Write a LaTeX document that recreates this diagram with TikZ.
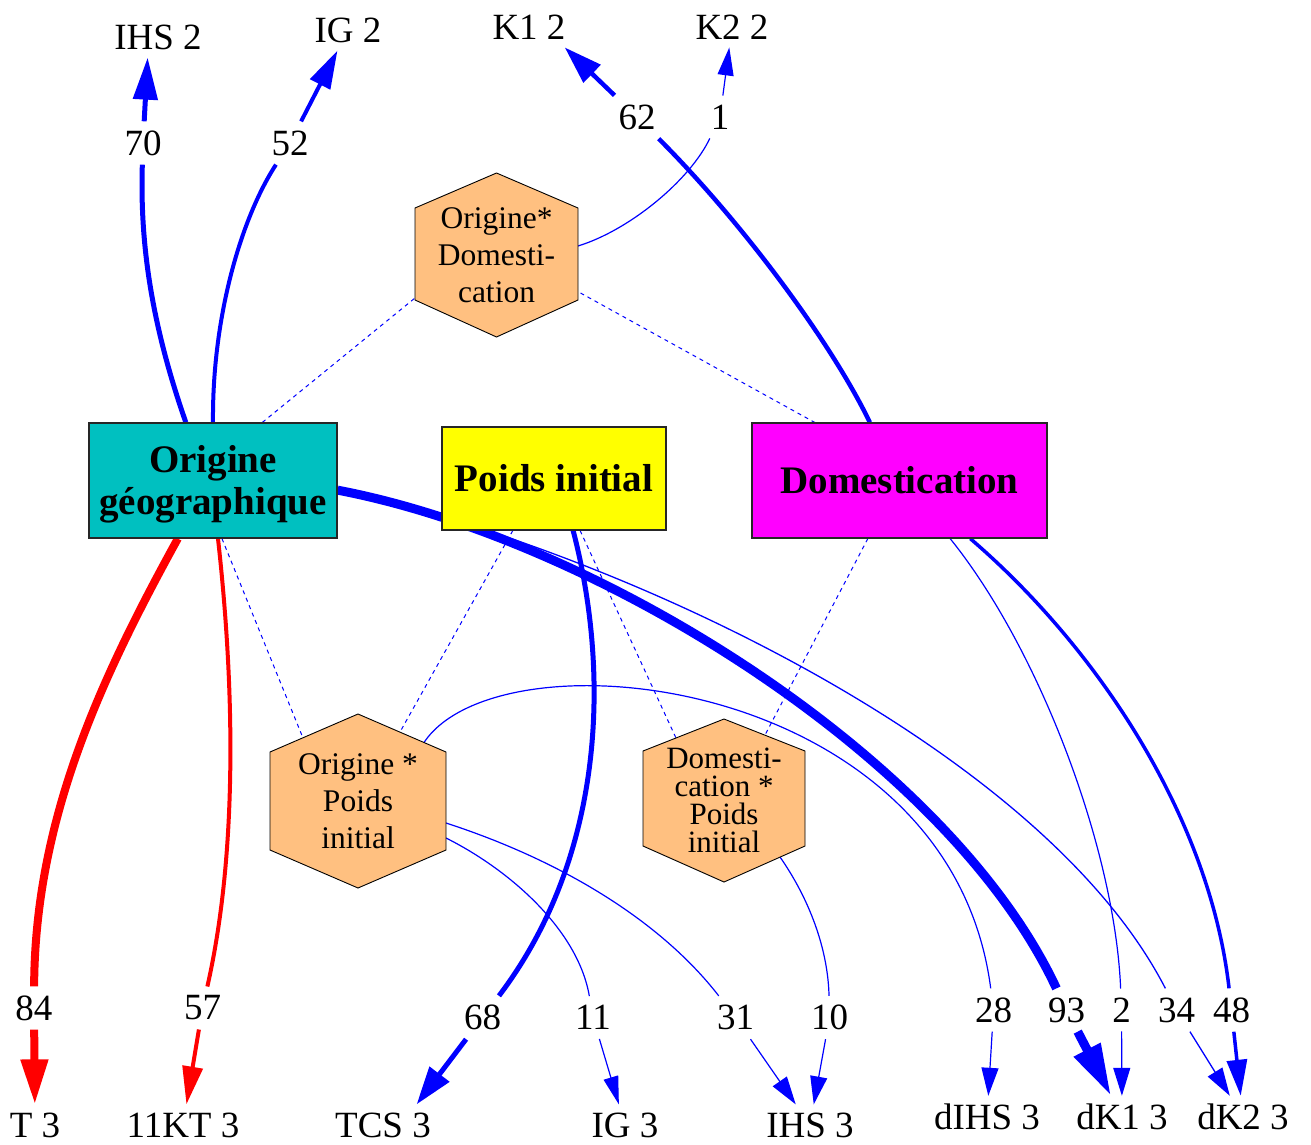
\documentclass[tikz,border=0pt]{standalone}
\usepackage{fontspec}
\setmainfont{Liberation Serif}
\usetikzlibrary{arrows.meta,calc}
\pgfdeclarelayer{bg}
\pgfsetlayers{bg,main}
\definecolor{cyanbox}{RGB}{0,192,192}
\definecolor{hexfill}{RGB}{255,192,128}
\definecolor{eblue}{RGB}{0,0,255}
\definecolor{ered}{RGB}{255,0,0}
\definecolor{boxmag}{RGB}{255,0,255}
\definecolor{boxyel}{RGB}{255,255,0}
\begin{document}
\begin{tikzpicture}[x=1pt,y=-1pt,
  box/.style={draw=black!85, line width=1.2pt, font=\fontsize{39}{42}\selectfont\bfseries, align=center, inner sep=0pt},
  lbl/.style={font=\fontsize{37}{40}\selectfont, inner sep=8pt},
  num/.style={font=\fontsize{37}{40}\selectfont, inner sep=9pt},
  hextxt/.style={font=\fontsize{31.5}{37}\selectfont, align=center, inner sep=0pt},
  hexbody/.style={draw=black, line width=0.9pt, fill=hexfill},
  link/.style={eblue, line width=1.2pt},
  redlink/.style={ered},
  inter/.style={eblue, line width=1pt, dash pattern=on 4pt off 4pt},
]
\useasboundingbox (0,0) rectangle (1311,1144);

% main factor boxes
\node[box, fill=cyanbox, minimum width=248pt, minimum height=115pt] (orig) at (213,480.5) {\rule{0pt}{35pt}Origine\\géographique};
\node[box, fill=boxyel, minimum width=224pt, minimum height=103pt] (poids) at (554,478.5) {Poids initial};
\node[box, fill=boxmag, minimum width=295pt, minimum height=115pt] (dom) at (899.5,480.5) {Domestication};

% interaction hexagons
\coordinate (cOD) at (496.5,255);
\draw[hexbody] ($(cOD)+(0,-82)$) -- ($(cOD)+(81.5,-47)$) -- ($(cOD)+(81.5,45)$) -- ($(cOD)+(0,82)$) -- ($(cOD)+(-81.5,45)$) -- ($(cOD)+(-81.5,-47)$) -- cycle;
\node[hextxt] (hOD) at (cOD) {Origine*\\Domesti-\\cation};

\coordinate (cOP) at (358,801);
\draw[hexbody] ($(cOP)+(0,-87)$) -- ($(cOP)+(88,-49)$) -- ($(cOP)+(88,49)$) -- ($(cOP)+(0,87)$) -- ($(cOP)+(-88,49)$) -- ($(cOP)+(-88,-49)$) -- cycle;
\node[hextxt] (hOP) at (cOP) {Origine *\\Poids\\initial};

\coordinate (cDP) at (724,800.5);
\draw[hexbody] ($(cDP)+(0,-81.5)$) -- ($(cDP)+(81,-49.5)$) -- ($(cDP)+(81,45.5)$) -- ($(cDP)+(0,81.5)$) -- ($(cDP)+(-81,45.5)$) -- ($(cDP)+(-81,-49.5)$) -- cycle;
\node[hextxt, font=\fontsize{31}{28}\selectfont] (hDP) at (cDP) {Domesti-\\cation *\\Poids\\initial};

% response labels
\node[lbl] (ihs2) at (158,37) {IHS 2};
\node[lbl] (ig2) at (348,30) {IG 2};
\node[lbl] (k12) at (529,27) {K1 2};
\node[lbl] (k22) at (732,27) {K2 2};
\node[lbl] (t3) at (35,1125) {T 3};
\node[lbl] (kt3) at (183,1125) {11KT 3};
\node[lbl] (tcs3) at (383,1125) {TCS 3};
\node[lbl] (ig3) at (625,1125) {IG 3};
\node[lbl] (ihs3) at (810,1125) {IHS 3};
\node[lbl] (dihs3) at (987,1117) {dIHS 3};
\node[lbl] (dk13) at (1122,1117) {dK1 3};
\node[lbl] (dk23) at (1243,1117) {dK2 3};

% edge value labels
\node[num] (l70) at (143,143) {70};
\node[num] (l52) at (290,143) {52};
\node[num] (l62) at (637,117) {62};
\node[num] (l1) at (720,117) {1};
\node[num] (l84) at (34,1008) {84};
\node[num] (l57) at (202.5,1008) {57};
\node[num] (l68) at (482.5,1017.5) {68};
\node[num] (l11) at (593,1017.5) {11};
\node[num] (l31) at (735.5,1017.5) {31};
\node[num] (l10) at (829.5,1017.5) {10};
\node[num] (l28) at (993.5,1010) {28};
\node[num] (l93) at (1066.5,1010) {93};
\node[num] (l2) at (1121.5,1010) {2};
\node[num] (l34) at (1176.5,1010) {34};
\node[num] (l48) at (1231.5,1010) {48};

% attachment points
\coordinate (o70) at ($(orig.north west)!0.391!(orig.north east)$);
\coordinate (o52) at (orig.north);
\coordinate (oD1) at ($(orig.north west)!0.698!(orig.north east)$);
\coordinate (o84) at ($(orig.south west)!0.359!(orig.south east)$);
\coordinate (o57) at ($(orig.south west)!0.52!(orig.south east)$);
\coordinate (oD3) at ($(orig.south west)!0.536!(orig.south east)$);
\coordinate (o93) at ($(orig.north east)!0.583!(orig.south east)$);
\coordinate (o34) at ($(orig.north east)!0.575!(orig.south east)$);
\coordinate (p68) at ($(poids.south west)!0.585!(poids.south east)$);
\coordinate (pD4) at ($(poids.south west)!0.317!(poids.south east)$);
\coordinate (pD5) at ($(poids.south west)!0.616!(poids.south east)$);
\coordinate (d62) at ($(dom.north west)!0.4!(dom.north east)$);
\coordinate (dD2) at ($(dom.north west)!0.2136!(dom.north east)$);
\coordinate (d2) at ($(dom.south west)!0.671!(dom.south east)$);
\coordinate (d48) at ($(dom.south west)!0.739!(dom.south east)$);
\coordinate (dD6) at ($(dom.south west)!0.393!(dom.south east)$);
\coordinate (hOD1) at ($(cOD)+(81.5,-9)$);
\coordinate (hODa) at ($(cOD)+(-81.5,43)$);
\coordinate (hODb) at ($(cOD)+(84,38)$);
\coordinate (hOP11) at ($(cOP)+(88,37)$);
\coordinate (hOP31) at ($(cOP)+(88,22)$);
\coordinate (hOP28) at ($(cOP)+(66,-58.5)$);
\coordinate (hOPa) at ($(cOP)+(-55,-63)$);
\coordinate (hOPb) at ($(cOP)+(42,-69)$);
\coordinate (hDP10) at ($(cDP)+(56,56.5)$);
\coordinate (hDPa) at ($(cDP)+(-48,-62.5)$);
\coordinate (hDPb) at ($(cDP)+(41,-65.5)$);

\begin{pgfonlayer}{bg}
% interaction (dashed) links
\draw[inter] (oD1) -- (hODa);
\draw[inter] (hODb) -- (dD2);
\draw[inter] (oD3) -- (hOPa);
\draw[inter] (pD4) -- (hOPb);
\draw[inter] (pD5) -- (hDPa);
\draw[inter] (dD6) -- (hDPb);

% upward effects
\draw[link, line width=5pt] (o70) .. controls (150,320) and (140,240) .. (l70);
\draw[link, line width=5pt, -{Triangle[length=42pt,width=24pt]}] (l70) -- ($(ihs2.south west)!0.8!(ihs2.south)$);
\draw[link, line width=4pt] (o52) .. controls (212,320) and (240,220) .. (l52);
\draw[link, line width=4pt, -{Triangle[length=38pt,width=22pt]}] (l52) -- (ig2);
\draw[link, line width=4.5pt] (d62) .. controls (830,340) and (740,220) .. (l62);
\draw[link, line width=4.5pt, -{Triangle[length=38pt,width=24pt]}] (l62) -- ($(k12.south)!0.8!(k12.south east)$);
\draw[link] (hOD1) .. controls (630,230) and (690,180) .. (l1);
\draw[link, -{Triangle[length=28pt,width=16pt]}] (l1) -- (k22);

% downward effects
\draw[redlink, line width=8pt] (o84) .. controls (100,680) and (35,820) .. (l84);
\draw[redlink, line width=8pt, -{Triangle[length=45pt,width=26pt]}] (l84) -- (t3);
\draw[redlink, line width=4pt] (o57) .. controls (236,700) and (236,860) .. (l57);
\draw[redlink, line width=4pt, -{Triangle[length=38pt,width=20pt]}] (l57) -- (kt3);
\draw[link, line width=5pt] (p68) .. controls (612,680) and (602,860) .. (l68);
\draw[link, line width=5pt, -{Triangle[length=38pt,width=24pt]}] (l68) -- ($(tcs3.north)!0.6!(tcs3.north east)$);
\draw[link] (hOP11) .. controls (510,870) and (578,930) .. (l11);
\draw[link, -{Triangle[length=28pt,width=15pt]}] (l11) -- (ig3);
\draw[link] (hOP31) .. controls (560,860) and (660,920) .. (l31);
\draw[link, -{Triangle[length=28pt,width=17pt]}] (l31) -- (ihs3);
\draw[link] (hDP10) .. controls (810,900) and (828,950) .. (l10);
\draw[link, -{Triangle[length=28pt,width=17pt]}] (l10) -- (ihs3);
\draw[link] (hOP28) .. controls (500,628) and (950,675) .. (l28);
\draw[link, -{Triangle[length=28pt,width=17pt]}] (l28) -- (dihs3);
\draw[link, line width=1.3pt] (o34) .. controls (610,548) and (1040,745) .. (l34);
\draw[link, line width=1.3pt, -{Triangle[length=28pt,width=17pt]}] (l34) -- (dk23);
\draw[link, line width=9pt] (o93) .. controls (600,540) and (950,760) .. (l93);
\draw[link, line width=9pt, -{Triangle[length=52pt,width=28pt]}] (l93) -- (dk13);
\draw[link] (d2) .. controls (1040,650) and (1115,850) .. (l2);
\draw[link, -{Triangle[length=28pt,width=17pt]}] (l2) -- (dk13);
\draw[link, line width=3.5pt] (d48) .. controls (1100,650) and (1210,820) .. (l48);
\draw[link, line width=3.5pt, -{Triangle[length=36pt,width=20pt]}] (l48) -- (dk23);
\end{pgfonlayer}
\end{tikzpicture}
\end{document}
